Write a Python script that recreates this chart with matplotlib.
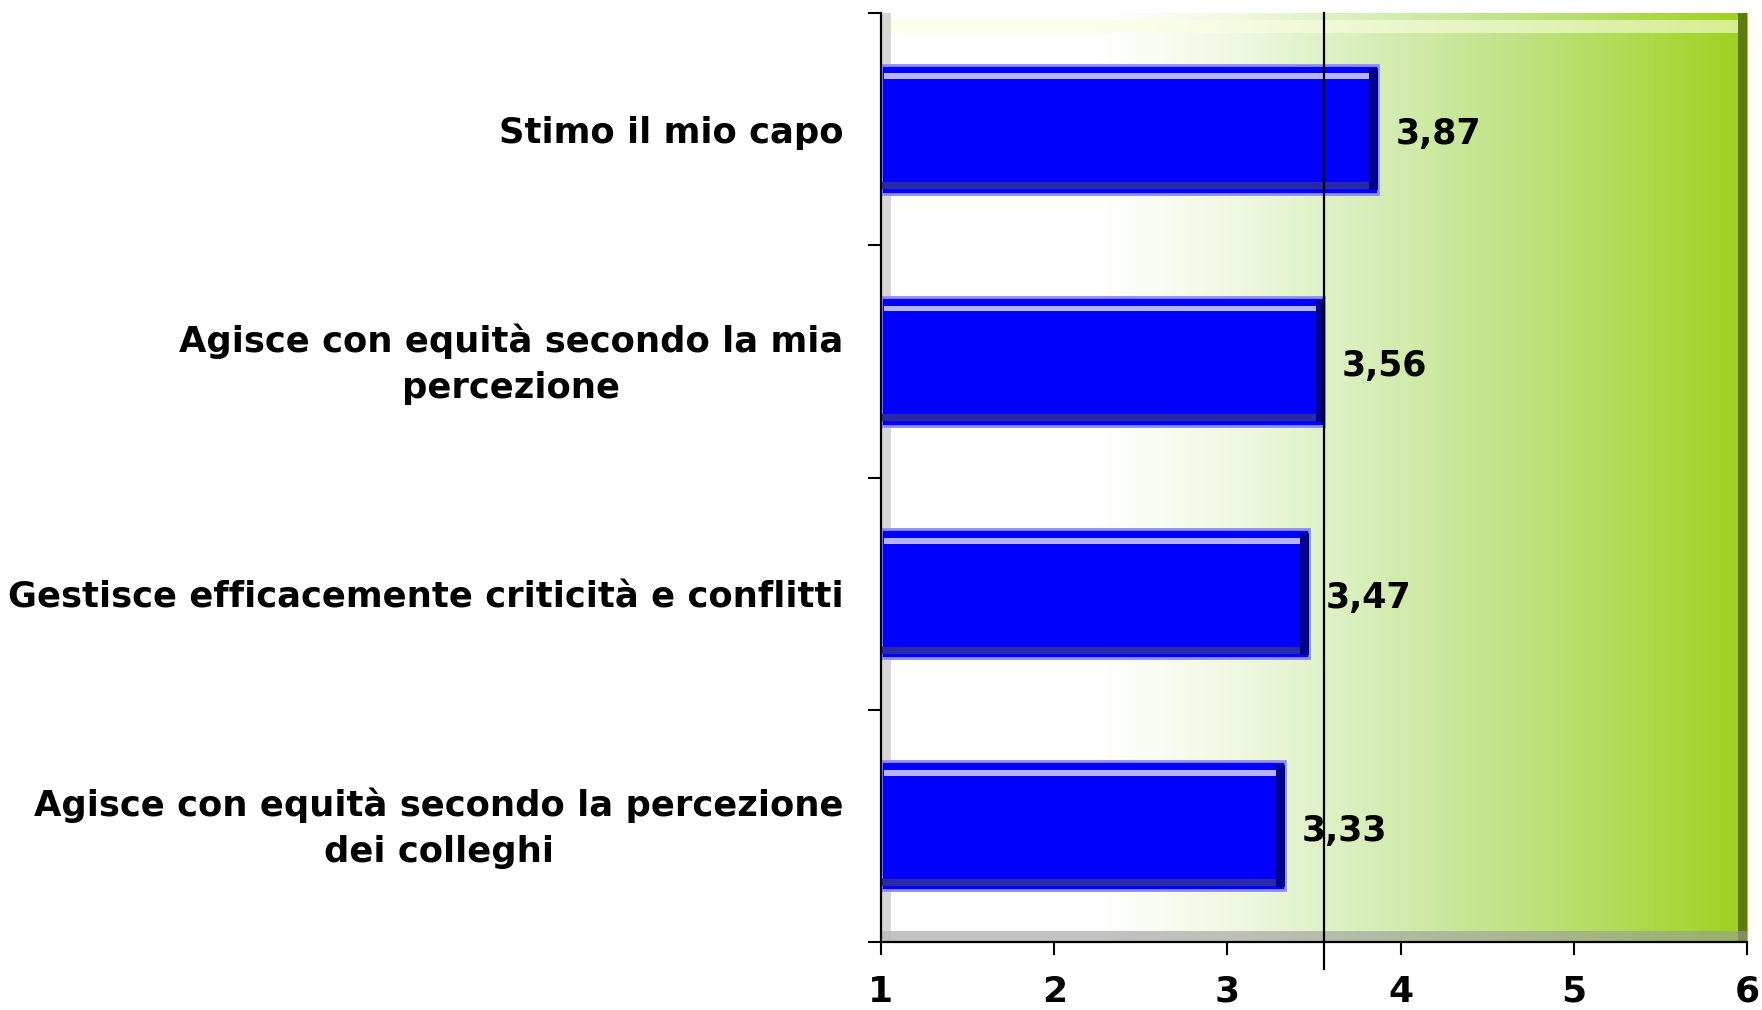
import numpy as np
import matplotlib.pyplot as plt
import matplotlib.transforms as mtransforms
from matplotlib.colors import LinearSegmentedColormap
from matplotlib.patches import Rectangle

# dati
categorie = ['Stimo il mio capo',
             'Agisce con equità secondo la mia\npercezione',
             'Gestisce efficacemente criticità e conflitti',
             'Agisce con equità secondo la percezione\ndei colleghi']
valori = [3.87, 3.56, 3.47, 3.33]
etichette = ['3,87', '3,56', '3,47', '3,33']
media = 3.56
xticks = [1, 2, 3, 4, 5, 6]

plt.rcParams['font.family'] = ['DejaVu Sans']
plt.rcParams['font.weight'] = 'bold'

fig = plt.figure(figsize=(17.62, 10.10), dpi=100)
ax = fig.add_axes([0.5, 0.0673, 0.4915, 0.9198])

# sfondo sfumato (parete)
cmap = LinearSegmentedColormap.from_list('parete', [
    (0.0, '#ffffff'), (0.25, '#ffffff'), (0.40, '#f1f9e4'),
    (0.55, '#d9efbd'), (0.75, '#bde27f'), (1.0, '#9dd21c')])
grad = np.linspace(0, 1, 512).reshape(1, -1)
ax.imshow(grad, extent=[1, 6, 3.5, -0.5], aspect='auto', cmap=cmap, zorder=0)

# bordo superiore chiaro, bordo destro scuro, pavimento grigio
ax.add_patch(Rectangle((0, 0.978), 1, 0.014, transform=ax.transAxes,
                       color='#fbffe0', alpha=0.6, lw=0, zorder=1))
ax.add_patch(Rectangle((0.99, 0), 0.01, 1, transform=ax.transAxes,
                       color='#5f7a12', lw=0, zorder=1))
ax.add_patch(Rectangle((0, 0), 1, 0.012, transform=ax.transAxes,
                       color='#9a9a9a', alpha=0.6, lw=0, zorder=1))
ax.add_patch(Rectangle((0, 0), 0.012, 1, transform=ax.transAxes,
                       color='#bdbdbd', alpha=0.6, lw=0, zorder=1))

y = np.arange(len(categorie))
h = 0.556
larg = [v - 1 for v in valori]
ax.barh(y, larg, left=1, height=h, color='#0000ff', edgecolor='#8c8cff',
        linewidth=2, zorder=3)
# effetto rilievo
ax.barh(y - h / 2 + 0.05, [w - 0.05 for w in larg], left=1.02, height=0.025,
        color='#b4b4ff', lw=0, zorder=4)
ax.barh(y + h / 2 - 0.035, larg, left=1, height=0.03,
        color='#2a2aa8', lw=0, zorder=4)
ax.barh(y, [0.05] * len(valori), left=[v - 0.05 for v in valori], height=h - 0.03,
        color='#00008e', lw=0, zorder=4)

for yi, v, t in zip(y, valori, etichette):
    ax.text(v + 0.1, yi + 0.02, t, ha='left', va='center', fontsize=25,
            fontweight='bold', zorder=6)

# linea media
ax.axvline(media, ymin=-0.029, ymax=1, color='black', lw=1.6, clip_on=False, zorder=5)

ax.set_xlim(1, 6)
ax.set_ylim(3.5, -0.5)
ax.set_xticks(xticks)
ax.set_xticklabels([str(t) for t in xticks], fontsize=26, fontweight='bold')
ax.set_yticks(y)
ax.set_yticklabels(categorie, fontsize=25.5, fontweight='bold',
                   multialignment='center', linespacing=1.45)
ax.set_yticks(np.arange(-0.5, 4, 1), minor=True)
ax.tick_params(axis='y', which='major', length=0, pad=27)
ax.tick_params(axis='y', which='minor', length=9.5, width=1.5, direction='out')
ax.tick_params(axis='x', length=9.5, width=1.5, direction='out', pad=14)

# etichette su due righe un po' più in alto
su = mtransforms.ScaledTranslation(0, 5 / 72, fig.dpi_scale_trans)
for lab in ax.get_yticklabels():
    if '\n' in lab.get_text():
        lab.set_transform(lab.get_transform() + su)

for s in ['top', 'right']:
    ax.spines[s].set_visible(False)
for s in ['left', 'bottom']:
    ax.spines[s].set_linewidth(1.6)
    ax.spines[s].set_zorder(6)

fig.savefig('out.png', dpi=100)
